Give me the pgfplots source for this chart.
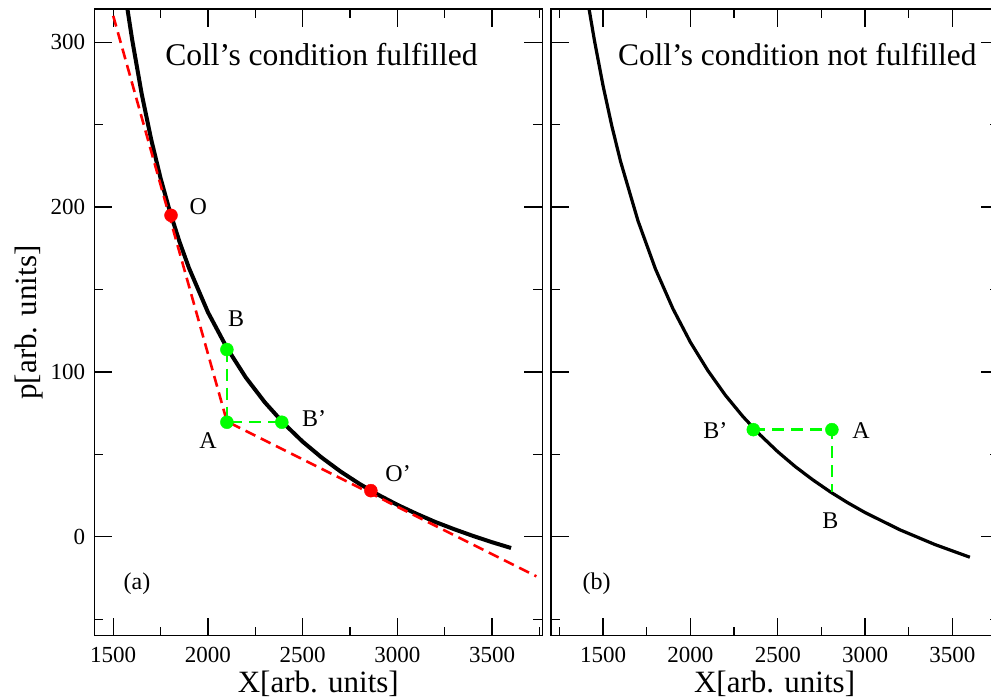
\documentclass[border=0pt]{standalone}
\usepackage{fontspec}
\setmainfont{Liberation Serif}
\usepackage{pgfplots}
\pgfplotsset{compat=1.18}
\definecolor{myred}{RGB}{255,0,0}
\definecolor{mygreen}{RGB}{0,255,0}
\pgfplotsset{
 panel/.style={
  scale only axis, width=448pt, height=626.4pt,
  ymin=-60, ymax=320, xmax=3765,
  axis line style={line width=1.6pt},
  every tick/.append style={line width=1.4pt, black},
  tick align=inside, tick pos=both,
  major tick length=18pt, minor tick length=9pt,
  xtick={1500,2000,2500,3000,3500}, ytick={0,100,200,300},
  xticklabels={1500,2000,2500,3000,3500},
  minor ytick={-50,50,150,250},
  tick label style={font=\fontsize{23}{27}\selectfont},
  xticklabel style={anchor=north, inner sep=0pt, yshift=-11pt},
  yticklabel style={anchor=east, inner sep=0pt, xshift=-9pt},
 },
}
\tikzset{ptlabel/.style={anchor=base west, inner sep=0pt, font=\fontsize{24}{28}\selectfont}}
\begin{document}
\begin{tikzpicture}
% ---------- panel (a)
\begin{axis}[panel, at={(94.3pt,62.3pt)}, anchor=south west,
  xmin=1400, minor xtick={1750,2250,2750,3250,3750}, yticklabels={0,100,200,300}]
\addplot[black, line width=4pt] coordinates {
 (1575,320.1) (1600,301.5) (1650,268.8) (1700,241.2) (1750,217.5) (1800,196.9)
 (1850,178.9) (1900,163.0) (2000,136.2) (2100,114.6) (2200,96.6) (2300,81.6)
 (2400,68.8) (2500,57.7) (2600,48.1) (2700,39.6) (2800,32.1) (2900,25.4)
 (3000,19.4) (3100,14.0) (3200,9.0) (3300,4.6) (3400,0.5) (3500,-3.3) (3600,-6.8)};
\addplot[myred, line width=2.6pt, dash pattern=on 11pt off 6pt] coordinates {
 (1500,316) (2100,70) (3734,-24)};
\addplot[mygreen, line width=2.4pt, dash pattern=on 12pt off 7pt] coordinates {
 (2100,113.6) (2100,69.5) (2390,69.5)};
\addplot[only marks, mark=*, mark size=6.5pt, mygreen, mark options={draw=none, fill=mygreen}] coordinates {
 (2100,113.6) (2100,69.5) (2390,69.5)};
\addplot[only marks, mark=*, mark size=6.5pt, myred, mark options={draw=none, fill=myred}] coordinates {
 (1805,195) (2860,28)};
\node[ptlabel] at (axis cs:1902,195.5) {O};
\node[ptlabel] at (axis cs:2105,127.7) {B};
\node[ptlabel] at (axis cs:1954,53.4) {A};
\node[ptlabel] at (axis cs:2496,66.7) {B’};
\node[ptlabel] at (axis cs:2936,33.5) {O’};
\node[anchor=base west, inner sep=0pt, font=\fontsize{31.6}{36}\selectfont] at (rel axis cs:0.158,0.9095) {Coll’s condition fulfilled};
\node[ptlabel] at (rel axis cs:0.065,0.073) {(a)};
\end{axis}
% ---------- panel (b)
\begin{axis}[panel, at={(550.7pt,62.3pt)}, anchor=south west,
  xmin=1200, minor xtick={1250,1750,2250,2750,3250,3750}, yticklabels={}]
\addplot[black, line width=3.2pt] coordinates {
 (1420,320.0) (1450,301.3) (1500,273.5) (1550,249.2) (1600,227.7) (1700,191.6)
 (1800,162.4) (1900,138.3) (2000,118.0) (2100,100.8) (2200,85.9) (2300,73.0)
 (2400,61.7) (2500,51.6) (2600,42.6) (2700,34.6) (2800,27.3) (2900,20.7)
 (3000,14.7) (3200,4.2) (3400,-4.7) (3600,-12.4)};
\addplot[mygreen, line width=2.4pt, dash pattern=on 12pt off 7pt] coordinates {
 (2360,65) (2810,65) (2810,27)};
\addplot[only marks, mark=*, mark size=6.5pt, mygreen, mark options={draw=none, fill=mygreen}] coordinates {
 (2360,65) (2810,65)};
\node[ptlabel] at (axis cs:2073,59.6) {B’};
\node[ptlabel] at (axis cs:2926,59.6) {A};
\node[ptlabel] at (axis cs:2754,4.8) {B};
\node[anchor=base west, inner sep=0pt, font=\fontsize{31.4}{36}\selectfont] at (rel axis cs:0.150,0.9095) {Coll’s condition not fulfilled};
\node[ptlabel] at (rel axis cs:0.0706,0.073) {(b)};
\end{axis}
% ---------- axis titles
\node[anchor=base, inner sep=0pt, font=\fontsize{31}{36}\selectfont] at (318.3pt,5pt) {X[arb. units]};
\node[anchor=base, inner sep=0pt, font=\fontsize{31}{36}\selectfont] at (774.6pt,5pt) {X[arb. units]};
\node[rotate=90, anchor=base, inner sep=0pt, font=\fontsize{31}{36}\selectfont] at (36pt,375.5pt) {p[arb. units]};
\pgfresetboundingbox
\useasboundingbox (0,0) rectangle (991pt,698pt);
\end{tikzpicture}
\end{document}
